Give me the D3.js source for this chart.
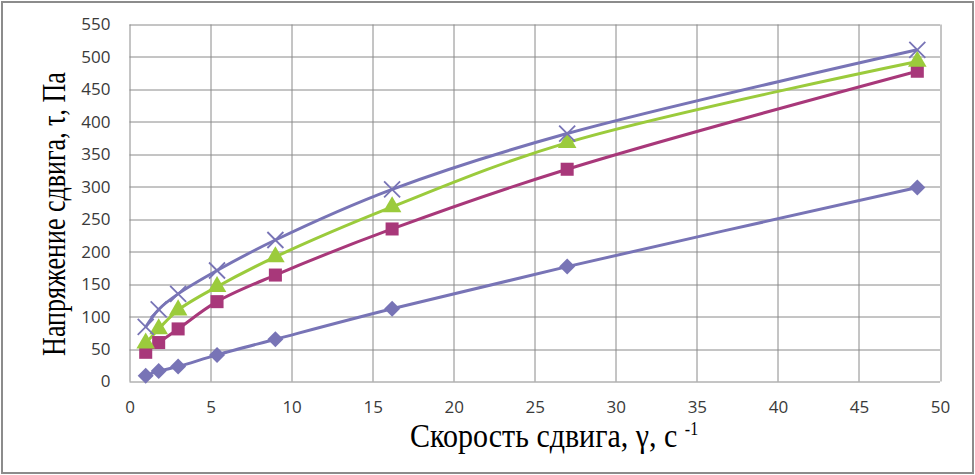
<!DOCTYPE html>
<meta charset="utf-8"/>
<style>
  body { margin: 0; background: #fff; }
</style>
<svg width="975" height="475"></svg>
<script src="https://cdn.jsdelivr.net/npm/d3@7"></script>
<script>

// shear rate, 1/s
var rates = [1.0, 1.8, 3.0, 5.4, 9.0, 16.2, 27.0, 48.6];

// shear stress, Pa
var diamonds  = [9, 16, 23, 41, 65, 112, 177, 299];
var squares   = [45, 60, 81, 123, 164, 235, 327, 478];
var triangles = [59, 81, 110, 146, 192, 269, 368, 493];
var crosses   = [84, 111, 135, 171, 218, 296, 382, 511];

var xTicks = [0, 5, 10, 15, 20, 25, 30, 35, 40, 45, 50];
var yTicks = [0, 50, 100, 150, 200, 250, 300, 350, 400, 450, 500, 550];

var series = [
  {values: diamonds,  color: "#7874b6", marker: "diamond"},
  {values: squares,   color: "#a8387a", marker: "square"},
  {values: triangles, color: "#9bcb3c", marker: "triangle"},
  {values: crosses,   color: "#7874b6", marker: "cross"}
];

var svg = d3.select("svg"),
    margin = {top: 24.5, right: 35, bottom: 93.5, left: 129.5},
    width = +svg.attr("width") - margin.left - margin.right,
    height = +svg.attr("height") - margin.top - margin.bottom;

// outer frame
svg.append("rect")
    .attr("x", 2).attr("y", 2)
    .attr("width", 971).attr("height", 471)
    .attr("fill", "none")
    .attr("stroke", "#8c8c8c")
    .attr("stroke-width", 2);

var g = svg.append("g").attr("transform", "translate(" + margin.left + "," + margin.top + ")");

var x = d3.scaleLinear().domain([0, 50]).range([0, width]);
var y = d3.scaleLinear().domain([0, 550]).range([height, 0]);

// grid
g.append("g")
    .selectAll("line.h")
    .data(yTicks)
  .enter().append("line")
    .attr("x1", 0).attr("x2", width)
    .attr("y1", function(d) { return Math.round(y(d)) + 0.5; })
    .attr("y2", function(d) { return Math.round(y(d)) + 0.5; })
    .attr("stroke", "#8a8a8a");

g.append("g")
    .selectAll("line.v")
    .data(xTicks)
  .enter().append("line")
    .attr("y1", 0).attr("y2", height)
    .attr("x1", function(d) { return Math.round(x(d)) + 0.5; })
    .attr("x2", function(d) { return Math.round(x(d)) + 0.5; })
    .attr("stroke", "#8a8a8a");

// axes (labels only, lines are the grid)
var yAxis = g.append("g")
    .call(d3.axisLeft(y).tickValues(yTicks).tickSize(0).tickPadding(19));
var xAxis = g.append("g")
    .attr("transform", "translate(0," + height + ")")
    .call(d3.axisBottom(x).tickValues(xTicks).tickSize(0).tickPadding(19));

[xAxis, yAxis].forEach(function(a) {
  a.select(".domain").remove();
  a.selectAll("text")
      .attr("fill", "#3a3a3a")
      .style("font-family", "Open Sans")
      .style("font-size", "17px");
});

// lines
var line = d3.line()
    .x(function(d, i) { return x(rates[i]); })
    .y(function(d) { return y(d); })
    .curve(d3.curveCatmullRom.alpha(0.5));

series.forEach(function(s) {
  g.append("path")
      .datum(s.values)
      .attr("fill", "none")
      .attr("stroke", s.color)
      .attr("stroke-width", 3)
      .attr("d", line);
});

// markers
var symbols = {
  diamond: function() { return "M0,-8L8,0L0,8L-8,0Z"; },
  square: d3.symbol().type(d3.symbolSquare).size(170),
  triangle: d3.symbol().type(d3.symbolTriangle).size(150)
};

series.forEach(function(s) {
  var m = g.append("g").selectAll("path")
      .data(s.values)
    .enter().append("path")
      .attr("transform", function(d, i) { return "translate(" + x(rates[i]) + "," + y(d) + ")"; });
  if (s.marker === "cross") {
    m.attr("d", "M-8,-8L8,8M-8,8L8,-8")
        .attr("fill", "none")
        .attr("stroke", s.color)
        .attr("stroke-width", 1.8);
  } else {
    m.attr("d", symbols[s.marker]())
        .attr("fill", s.color);
  }
});

// axis titles (the source picture is stretched across the glyphs)
svg.append("text")
    .attr("transform", "translate(65,214) rotate(-90) scale(1,1.28)")
    .attr("text-anchor", "middle")
    .attr("fill", "#000")
    .style("font-family", "Liberation Serif")
    .style("font-size", "26px")
    .text("Напряжение сдвига, τ, Па");

var xt = svg.append("text")
    .attr("transform", "translate(410,447) scale(1,1.12)")
    .attr("fill", "#000")
    .style("font-family", "Liberation Serif")
    .style("font-size", "30px");
xt.append("tspan").text("Скорость сдвига, γ, с ");
xt.append("tspan")
    .attr("dy", -11)
    .style("font-size", "16px")
    .text("-1");

</script>
